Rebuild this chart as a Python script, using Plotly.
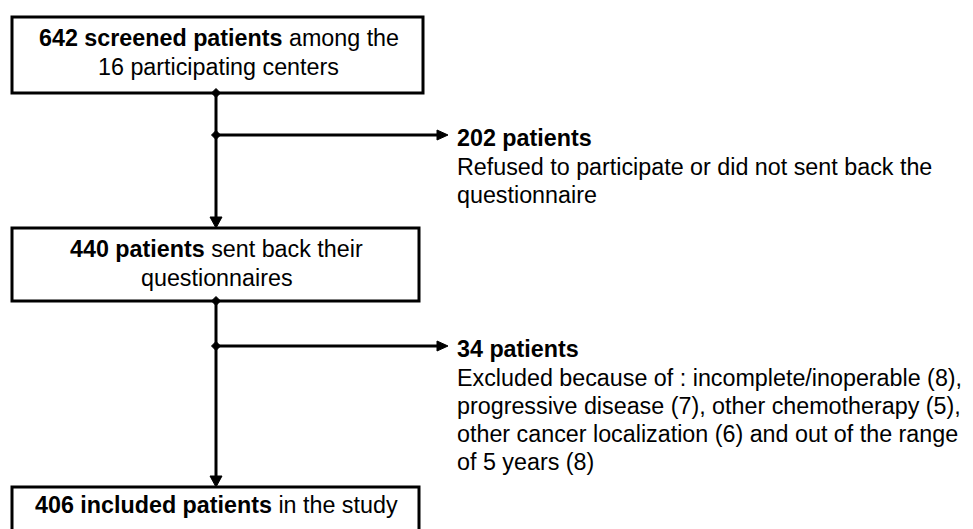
import plotly.graph_objects as go

# Flowchart content
box_lines = [
    ["<b>642 screened patients</b> among the", "16 participating centers"],
    ["<b>440 patients</b> sent back their", "questionnaires"],
    ["<b>406 included patients</b> in the study"],
]
excl_titles = ["<b>202 patients</b>", "<b>34 patients</b>"]
excl_lines = [
    ["Refused to participate or did not sent back the", "questionnaire"],
    ["Excluded because of : incomplete/inoperable (8),",
     "progressive disease (7), other chemotherapy (5),",
     "other cancer localization (6) and out of the range",
     "of 5 years (8)"],
]

W, H = 973, 529
OFF = 8  # page body margin
# layout geometry (pixels)
boxes = [(12, 17, 423, 93), (12, 228, 419, 301), (12, 487, 419, 560)]
box_text_y = [[38, 67], [249, 278], [505]]
vx = 216
branch_y = [135, 346]
arrow_end = 448
excl_text_y = [[138, 167, 195], [349, 378, 406, 434, 462]]
FS = 23.3

fig = go.Figure()
shapes = []
annotations = []
lw = 3
for (x0, y0, x1, y1) in boxes:
    shapes.append(dict(type="rect", x0=x0, y0=y0, x1=x1, y1=y1,
                       line=dict(color="black", width=lw), fillcolor="white", layer="below"))

for i, lines in enumerate(box_lines):
    cx = (boxes[i][0] + boxes[i][2]) / 2
    for t, y in zip(lines, box_text_y[i]):
        annotations.append(dict(x=cx + 1, y=y, text=t, showarrow=False, xanchor="center",
                                yanchor="middle",
                                font=dict(family="Liberation Sans, Arial", size=FS, color="black")))

# vertical connectors and branches
for i in range(2):
    top = boxes[i][3]
    bot = boxes[i + 1][1]
    shapes.append(dict(type="line", x0=vx, y0=top, x1=vx, y1=bot - 8, line=dict(color="black", width=lw)))
    shapes.append(dict(type="path", path=f"M {vx-6} {bot-11} L {vx+6} {bot-11} L {vx} {bot} Z",
                       fillcolor="black", line=dict(color="black", width=1)))
    by = branch_y[i]
    shapes.append(dict(type="line", x0=vx, y0=by, x1=arrow_end - 8, y1=by, line=dict(color="black", width=lw)))
    shapes.append(dict(type="path", path=f"M {arrow_end-11} {by-5} L {arrow_end} {by} L {arrow_end-11} {by+5} Z",
                       fillcolor="black", line=dict(color="black", width=1)))
    # diamonds
    for dy in (top, by):
        shapes.append(dict(type="path", path=f"M {vx-4.5} {dy} L {vx} {dy-4.5} L {vx+4.5} {dy} L {vx} {dy+4.5} Z",
                           fillcolor="black", line=dict(color="black", width=1)))
    ys = excl_text_y[i]
    annotations.append(dict(x=455, y=ys[0], text=excl_titles[i], showarrow=False, xanchor="left",
                            yanchor="middle", font=dict(family="Liberation Sans, Arial", size=FS, color="black")))
    for t, y in zip(excl_lines[i], ys[1:]):
        annotations.append(dict(x=455, y=y, text=t, showarrow=False, xanchor="left",
                                yanchor="middle", font=dict(family="Liberation Sans, Arial", size=FS, color="black")))

fig.update_layout(
    width=W - OFF, height=H - OFF, margin=dict(l=0, r=0, t=0, b=0),
    paper_bgcolor="white", plot_bgcolor="white",
    xaxis=dict(range=[OFF, W], visible=False, fixedrange=True),
    yaxis=dict(range=[H, OFF], visible=False, fixedrange=True),
    shapes=shapes, annotations=annotations, showlegend=False,
)
fig.write_html("out.html")
